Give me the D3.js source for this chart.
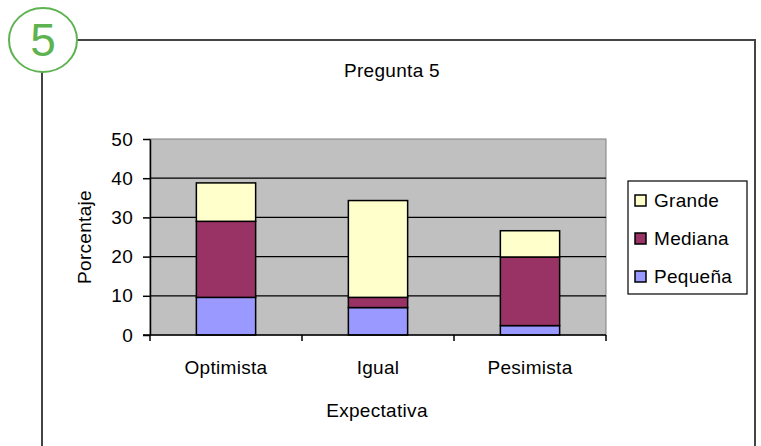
<!DOCTYPE html>
<html>
<head>
<meta charset="utf-8">
<script src="https://cdn.jsdelivr.net/npm/d3@7"></script>
<style>
  body { margin: 0; background: #fff; }
  text { font-family: "Liberation Sans", Arial, sans-serif; letter-spacing: 0.3px; }
</style>
</head>
<body>
<svg id="chart" width="761" height="446"></svg>
<script>
var categories = ["Optimista", "Igual", "Pesimista"];
var seriesNames = ["Pequeña", "Mediana", "Grande"];
var pequena = [9.6, 7.0, 2.4];
var mediana = [19.4, 2.6, 17.5];
var grande = [9.8, 24.7, 6.7];
var yTicks = [0, 10, 20, 30, 40, 50];
var colors = ["#9999ff", "#993366", "#ffffcc"];

(function() {
var svg = d3.select("#chart");
var fs = 19;

// frame with numbered badge
svg.append("path")
  .attr("d", "M42,72 L42,446 M77,40 L755,40 L755,446")
  .attr("fill", "none").attr("stroke", "#444").attr("stroke-width", 2);
svg.append("ellipse")
  .attr("cx", 43).attr("cy", 40).attr("rx", 34).attr("ry", 32)
  .attr("fill", "#fff").attr("stroke", "#5db350").attr("stroke-width", 2);
svg.append("text")
  .attr("x", 43).attr("y", 56).attr("text-anchor", "middle")
  .attr("font-size", 46).attr("fill", "#5db350").style("letter-spacing", "0").text("5");

var left = 150, right = 606, plotTop = 139, bottom = 335;

var x = d3.scaleBand().domain(categories).range([left, right]).paddingInner(0.61).paddingOuter(0.305);
var xOuter = d3.scaleBand().domain(categories).range([left, right]);
var y = d3.scaleLinear().domain([0, 50]).range([bottom, plotTop]);

// plot area
svg.append("rect")
  .attr("x", left).attr("y", plotTop).attr("width", right - left).attr("height", bottom - plotTop)
  .attr("fill", "#c0c0c0").attr("stroke", "#808080").attr("stroke-width", 1);

svg.append("g").selectAll("line").data(yTicks.filter(function(d){ return d > 0 && d < 50; }))
  .join("line")
  .attr("x1", left).attr("x2", right)
  .attr("y1", function(d){ return y(d); }).attr("y2", function(d){ return y(d); })
  .attr("stroke", "#000").attr("stroke-width", 1.2);

// stacked bars
var rows = categories.map(function(c, i) {
  return { cat: c, "Pequeña": pequena[i], "Mediana": mediana[i], "Grande": grande[i] };
});
var stacked = d3.stack().keys(seriesNames)(rows);

svg.append("g").selectAll("g").data(stacked).join("g")
  .attr("fill", function(d, i){ return colors[i]; })
  .selectAll("rect").data(function(d){ return d; }).join("rect")
  .attr("x", function(d){ return x(d.data.cat); })
  .attr("width", x.bandwidth())
  .attr("y", function(d){ return y(d[1]); })
  .attr("height", function(d){ return y(d[0]) - y(d[1]); })
  .attr("stroke", "#000").attr("stroke-width", 1.5);

// y axis
var yAxis = svg.append("g").attr("transform", "translate(" + left + ",0)")
  .call(d3.axisLeft(y).tickValues(yTicks).tickSize(7).tickPadding(10).tickSizeOuter(0));
yAxis.select(".domain").attr("stroke", "#000").attr("stroke-width", 1.5);
yAxis.selectAll(".tick line").attr("stroke", "#000").attr("stroke-width", 1.5);
yAxis.selectAll("text").attr("font-size", fs).attr("fill", "#000")
  .attr("font-family", "Liberation Sans, Arial, sans-serif");

// x axis
var xAxis = svg.append("g").attr("transform", "translate(0," + bottom + ")");
xAxis.append("line").attr("x1", left - 7).attr("x2", right).attr("y1", 0).attr("y2", 0)
  .attr("stroke", "#000").attr("stroke-width", 1.5);
xAxis.selectAll("line.tick").data(categories.concat(["end"])).join("line")
  .attr("class", "tick")
  .attr("x1", function(d, i){ return left + i * xOuter.step(); })
  .attr("x2", function(d, i){ return left + i * xOuter.step(); })
  .attr("y1", 0).attr("y2", 6).attr("stroke", "#000").attr("stroke-width", 1.5);
xAxis.selectAll("text").data(categories).join("text")
  .attr("x", function(d){ return xOuter(d) + xOuter.bandwidth() / 2; })
  .attr("y", 39).attr("text-anchor", "middle").attr("font-size", fs).text(function(d){ return d; });

// titles
svg.append("text").attr("x", 392).attr("y", 77).attr("text-anchor", "middle")
  .attr("font-size", fs).text("Pregunta 5");
svg.append("text").attr("x", 377).attr("y", 417).attr("text-anchor", "middle")
  .attr("font-size", fs).text("Expectativa");
svg.append("text").attr("transform", "translate(91,237) rotate(-90)")
  .attr("text-anchor", "middle").attr("font-size", fs).text("Porcentaje");

// legend
var legend = svg.append("g");
legend.append("rect").attr("x", 628).attr("y", 181).attr("width", 119).attr("height", 113)
  .attr("fill", "#fff").attr("stroke", "#000").attr("stroke-width", 1.2);
var legendItems = seriesNames.slice().reverse();
var legendY = d3.scalePoint().domain(legendItems).range([201, 277]);
var li = legend.selectAll("g.item").data(legendItems).join("g").attr("class", "item");
li.append("rect")
  .attr("x", 635).attr("y", function(d){ return legendY(d) - 6; })
  .attr("width", 11).attr("height", 11)
  .attr("fill", function(d){ return colors[seriesNames.indexOf(d)]; })
  .attr("stroke", "#000").attr("stroke-width", 1.5);
li.append("text").attr("x", 654).attr("y", function(d){ return legendY(d) + 6; })
  .attr("font-size", fs).text(function(d){ return d; });
})();
</script>
</body>
</html>
